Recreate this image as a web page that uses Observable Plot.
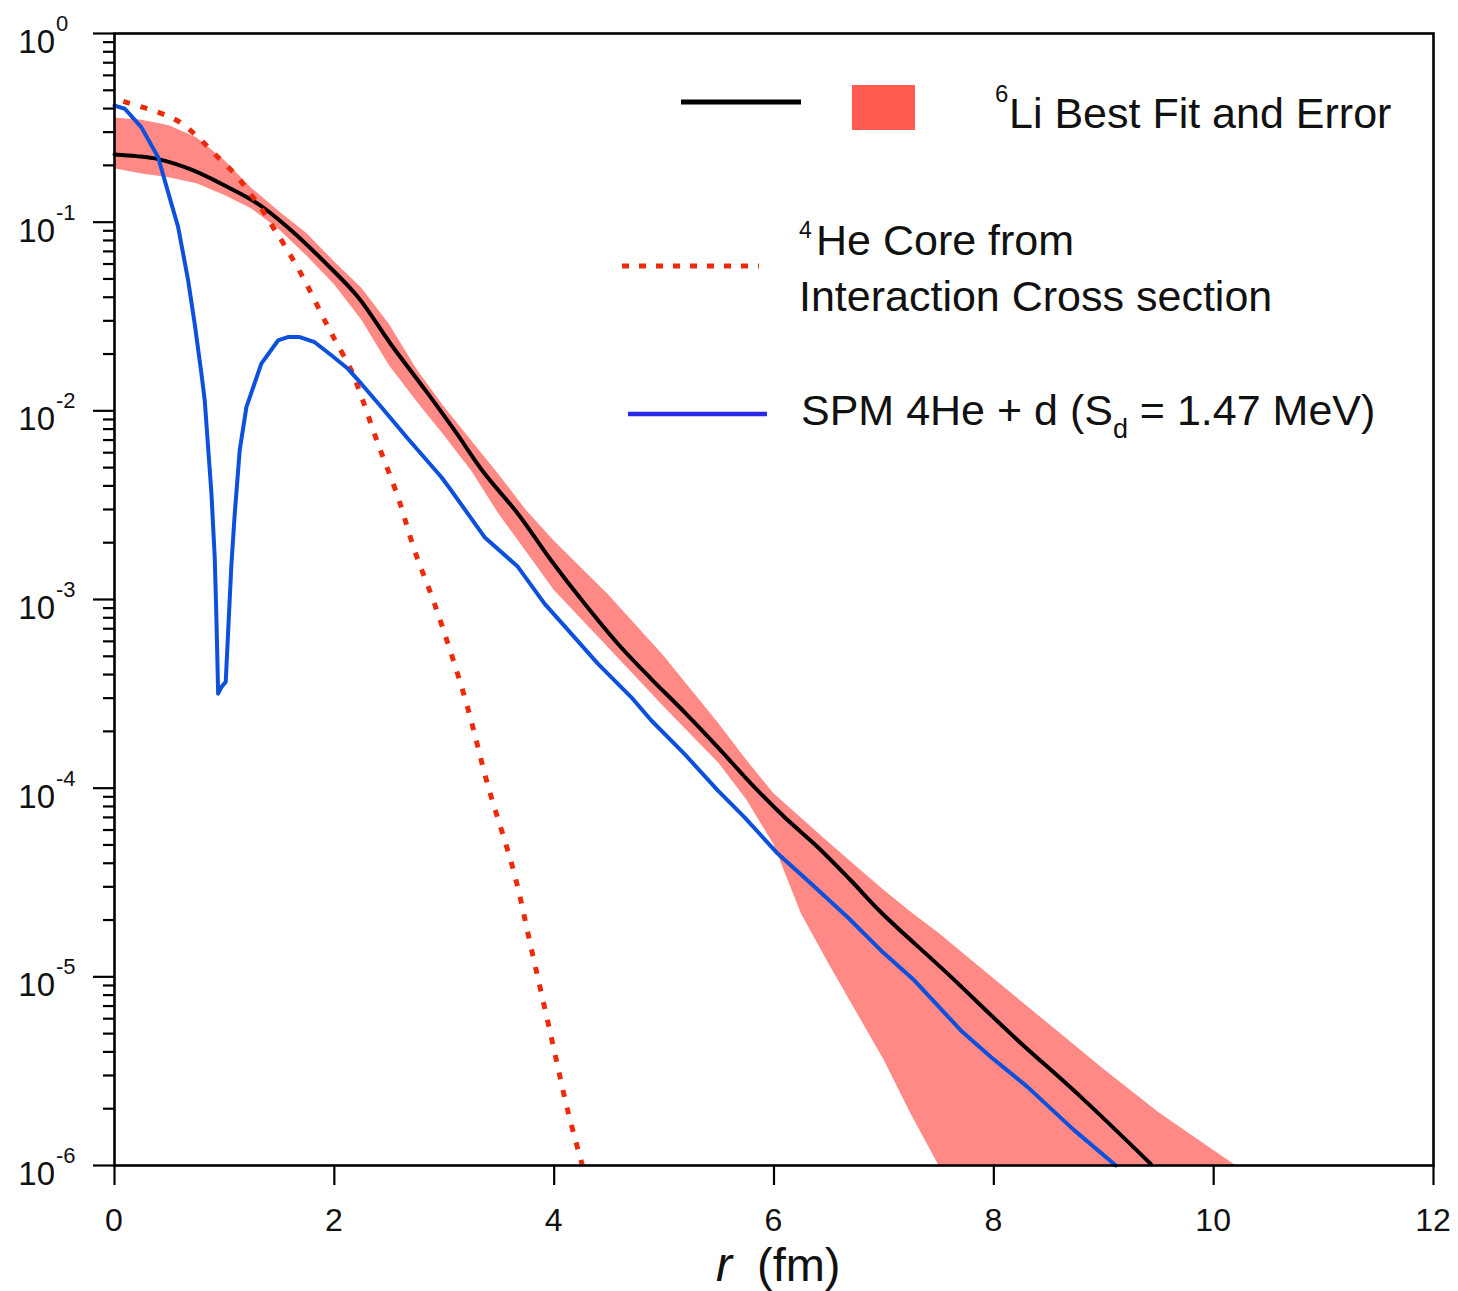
<!DOCTYPE html>
<html><head><meta charset="utf-8">
<script src="https://cdn.jsdelivr.net/npm/d3@7"></script>
<script src="https://cdn.jsdelivr.net/npm/@observablehq/plot@0.6"></script>
<style>body{margin:0;background:#fff} svg{display:block}</style>
</head><body><div id="chart"></div>
<script>
// ---- data ----
// 6Li best fit (black line)
const fitR = [0, 0.2, 0.397, 0.7, 1.003, 1.306, 1.609, 1.912, 2.215, 2.518, 2.852, 3.094, 3.367, 3.67, 3.973, 4.276, 4.579, 4.882, 5.185, 5.488, 5.791, 6.094, 6.397, 6.7, 6.973, 7.579, 8.185, 8.791, 9.427];
const fitV = [0.2286, 0.2239, 0.2158, 0.1897, 0.1563, 0.1250, 0.0904, 0.0614, 0.0401, 0.0224, 0.01233, 0.00787, 0.00465, 0.00285, 0.00161, 0.000951, 0.000583, 0.000380, 0.000253, 0.000165, 0.0001057, 7.03e-5, 4.88e-5, 3.24e-5, 2.20e-5, 1.04e-5, 4.80e-6, 2.31e-6, 1.02e-6];

// 6Li error band
const bandR  = [0, 0.25, 0.5, 0.75, 1, 1.25, 1.5, 1.75, 2, 2.25, 2.5, 2.75, 3, 3.25, 3.5, 3.75, 4, 4.5, 5, 5.5, 5.75, 6, 6.25, 6.5, 7, 7.25, 7.5, 8, 8.5, 9, 9.5, 10, 10.2];
const bandHi = [0.357, 0.347, 0.324, 0.279, 0.213, 0.151, 0.1135, 0.0871, 0.0617, 0.0447, 0.0288, 0.0166, 0.01047, 0.00692, 0.00457, 0.00295, 0.00204, 0.00105, 5.01e-4, 2.19e-4, 1.41e-4, 9.33e-5, 6.92e-5, 5.13e-5, 2.88e-5, 2.19e-5, 1.70e-5, 9.77e-6, 5.62e-6, 3.24e-6, 1.91e-6, 1.20e-6, 1.0e-6];
const bandLo = [0.192, 0.180, 0.172, 0.160, 0.139, 0.1175, 0.0912, 0.0661, 0.0468, 0.0302, 0.0174, 0.0112, 0.00741, 0.00479, 0.00282, 0.00178, 0.00112, 5.50e-4, 2.69e-4, 1.35e-4, 8.71e-5, 5.01e-5, 2.15e-5, 1.17e-5, 3.63e-6, 1.86e-6, 1.0e-6, 1.0e-6, 1.0e-6, 1.0e-6, 1.0e-6, 1.0e-6, 1.0e-6];

// 4He core from interaction cross section (red dotted)
const coreR = [0.08, 0.436, 0.594, 0.76, 0.927, 1.094, 1.215, 1.336, 1.442, 1.548, 1.73, 1.882, 1.988, 2.139, 2.215, 2.397, 2.579, 2.73, 2.912, 3.185, 3.397, 3.639, 3.791, 3.973, 4.124, 4.255];
const coreV = [0.437, 0.375, 0.339, 0.282, 0.225, 0.180, 0.147, 0.118, 0.0942, 0.0753, 0.0491, 0.0327, 0.0248, 0.0171, 0.01337, 0.0067, 0.00349, 0.00182, 9.46e-4, 3.05e-4, 1.035e-4, 3.50e-5, 1.42e-5, 4.81e-6, 1.95e-6, 1.01e-6];

// SPM 4He + d (blue)
const spmR = [0, 0.094, 0.245, 0.397, 0.518, 0.579, 0.67, 0.73, 0.791, 0.821, 0.882, 0.912, 0.927, 0.943, 0.973, 1.012, 1.033, 1.064, 1.094, 1.139, 1.2, 1.336, 1.488, 1.576, 1.685, 1.821, 1.973, 2.124, 2.245, 2.427, 2.67, 2.973, 3.064, 3.367, 3.67, 3.912, 4.155, 4.397, 4.7, 4.882, 5.185, 5.488, 5.73, 6.033, 6.336, 6.67, 6.973, 7.276, 7.7, 7.973, 8.306, 8.73, 9.11];
const spmV = [0.415, 0.399, 0.318, 0.221, 0.125, 0.0942, 0.0491, 0.0288, 0.01574, 0.01135, 0.00364, 0.00166, 8.07e-4, 3.17e-4, 3.44e-4, 3.66e-4, 6.59e-4, 0.00155, 0.00285, 0.00617, 0.01047, 0.01778, 0.0236, 0.0246, 0.0246, 0.0231, 0.0197, 0.0167, 0.01393, 0.01047, 0.00711, 0.00446, 0.00378, 0.00214, 0.00149, 9.51e-4, 6.59e-4, 4.57e-4, 3.04e-4, 2.29e-4, 1.52e-4, 9.73e-5, 7.03e-5, 4.50e-5, 3.12e-5, 2.07e-5, 1.38e-5, 9.59e-6, 5.20e-6, 3.76e-6, 2.61e-6, 1.54e-6, 1.0e-6];

// ticks
const xTicks = [0, 2, 4, 6, 8, 10, 12];
const yExponents = [0, -1, -2, -3, -4, -5, -6];
const yMinorMult = [2, 3, 4, 5, 6, 7, 8, 9];

// ---- tables ----
const fit = fitR.map((r, i) => ({r, v: fitV[i]}));
const band = bandR.map((r, i) => ({r, lo: bandLo[i], hi: bandHi[i]}));
const core = coreR.map((r, i) => ({r, v: coreV[i]}));
const spm = spmR.map((r, i) => ({r, v: spmV[i]}));
const yMajor = yExponents.map(e => Math.pow(10, e));
const yMinor = [];
for (const e of yExponents.slice(1)) for (const m of yMinorMult) yMinor.push(m * Math.pow(10, e));

const FONT = "'Liberation Sans', Arial, Helvetica, sans-serif";

const chart = Plot.plot({
  width: 1458, height: 1291,
  marginLeft: 114, marginRight: 25, marginTop: 33, marginBottom: 126,
  style: {fontFamily: FONT, background: "white"},
  x: {domain: [0, 12], label: null},
  y: {type: "log", domain: [1e-6, 1], label: null},
  marks: [
    Plot.areaY(band, {x: "r", y1: "lo", y2: "hi", fill: "#ff8a85", curve: "linear"}),
    Plot.line(fit, {x: "r", y: "v", stroke: "#000", strokeWidth: 4, curve: "catmull-rom"}),
    Plot.line(core, {x: "r", y: "v", stroke: "#ee2a0c", strokeWidth: 5, strokeDasharray: "7,11", strokeLinecap: "butt", curve: "catmull-rom"}),
    Plot.line(spm, {x: "r", y: "v", stroke: "#0c50dc", strokeWidth: 4, curve: "linear"}),
    Plot.axisX({ticks: xTicks, tickSize: 20, tickFormat: () => "", strokeWidth: 2.2, stroke: "#000", label: null}),
    Plot.axisY({ticks: yMajor, tickSize: 21, tickFormat: () => "", strokeWidth: 2.2, stroke: "#000", label: null}),
    Plot.axisY({ticks: yMinor, tickSize: 11, tickFormat: () => "", strokeWidth: 2.2, stroke: "#000", label: null}),
    Plot.frame({stroke: "#000", strokeWidth: 2.6})
  ]
});

document.getElementById("chart").appendChild(chart);

// ---- labels (positions via the chart's own scales) ----
const svg = d3.select(chart);
const sx = chart.scale("x"), sy = chart.scale("y");
const g = svg.append("g").attr("font-family", FONT).attr("fill", "#111").attr("text-anchor", "start");

// x tick labels
for (const t of xTicks) {
  g.append("text").attr("x", sx.apply(t)).attr("y", 1231)
    .attr("text-anchor", "middle").attr("font-size", 32).text(String(t));
}
// y tick labels 10^e
for (const e of yExponents) {
  const y = sy.apply(Math.pow(10, e));
  g.append("text").attr("x", 55).attr("y", y + 20)
    .attr("text-anchor", "end").attr("font-size", 33).text("10");
  g.append("text").attr("x", 56).attr("y", y - 2)
    .attr("text-anchor", "start").attr("font-size", 22).text(String(e));
}
// x axis title
g.append("text").attr("x", 716).attr("y", 1281).attr("font-size", 48)
  .attr("font-style", "italic").attr("text-anchor", "start").text("r");
g.append("text").attr("x", 757).attr("y", 1281).attr("font-size", 47)
  .attr("text-anchor", "start").text("(fm)");

// legend
const lg = svg.append("g").attr("font-family", FONT).attr("fill", "#111").attr("text-anchor", "start");
lg.append("line").attr("x1", 681).attr("x2", 801).attr("y1", 102).attr("y2", 102)
  .attr("stroke", "#000").attr("stroke-width", 5);
lg.append("rect").attr("x", 852).attr("y", 85).attr("width", 63).attr("height", 45).attr("fill", "#ff5a50");
lg.append("text").attr("x", 995).attr("y", 102).attr("font-size", 24).text("6");
lg.append("text").attr("x", 1009).attr("y", 128).attr("font-size", 43).text("Li Best Fit and Error");

lg.append("line").attr("x1", 622).attr("x2", 759).attr("y1", 266).attr("y2", 266)
  .attr("stroke", "#ee2a0c").attr("stroke-width", 5).attr("stroke-dasharray", "7,10");
lg.append("text").attr("x", 799).attr("y", 238).attr("font-size", 23).text("4");
lg.append("text").attr("x", 816).attr("y", 255).attr("font-size", 43).text("He Core from");
lg.append("text").attr("x", 799).attr("y", 311).attr("font-size", 43).text("Interaction Cross section");

lg.append("line").attr("x1", 628).attr("x2", 767).attr("y1", 414).attr("y2", 414)
  .attr("stroke", "#2a2ae6").attr("stroke-width", 4.5);
const st = lg.append("text").attr("x", 801).attr("y", 425).attr("font-size", 43);
st.append("tspan").text("SPM 4He + d (S");
st.append("tspan").attr("font-size", 27).attr("dy", 13).text("d");
st.append("tspan").attr("dy", -13).text(" = 1.47 MeV)");
</script>
</body></html>
